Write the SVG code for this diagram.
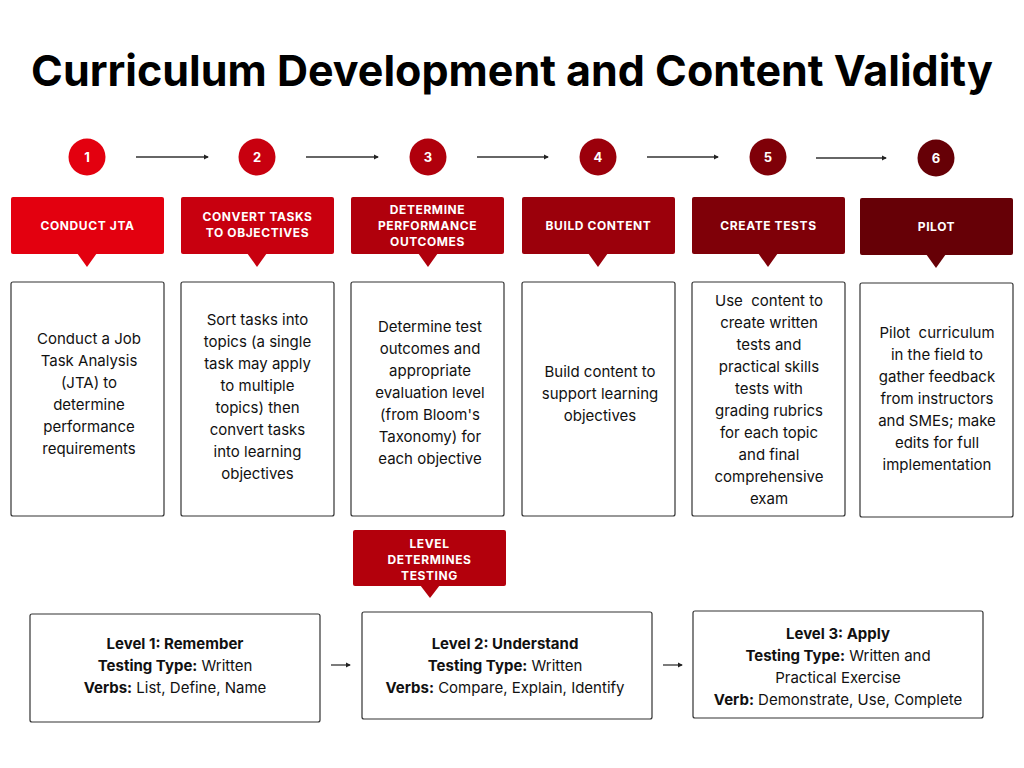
<svg xmlns="http://www.w3.org/2000/svg" width="1024" height="768" viewBox="0 0 1024 768">
<defs>
<style>
.title{font-family:Inter,"Liberation Sans",sans-serif;font-weight:700;font-size:43px;fill:#000}
.num{font-family:Inter,"Liberation Sans",sans-serif;font-weight:700;font-size:13px;fill:#fff}
.hd{font-family:Inter,"Liberation Sans",sans-serif;font-weight:700;font-size:12px;fill:#fff;letter-spacing:0.6px}
.bd{font-family:Inter,"Liberation Sans",sans-serif;font-size:15px;fill:#111}
.b{font-weight:700}
.box{fill:#fff;stroke:#333;stroke-width:1.2}
.conn{stroke:#333;stroke-width:1.3;fill:none}
</style>
<marker id="ah" viewBox="0 0 6 6" refX="5" refY="3" markerWidth="4" markerHeight="4" orient="auto">
<path d="M0,0 L6,3 L0,6 z" fill="#222"/>
</marker>
</defs>
<rect width="1024" height="768" fill="#fff"/>
<text class="title" x="512" y="86" text-anchor="middle">Curriculum Development and Content Validity</text>

<g id="connectors">
<line class="conn" x1="136" y1="157" x2="208" y2="157" marker-end="url(#ah)"/>
<line class="conn" x1="306" y1="157" x2="378" y2="157" marker-end="url(#ah)"/>
<line class="conn" x1="477" y1="157" x2="548" y2="157" marker-end="url(#ah)"/>
<line class="conn" x1="647" y1="157" x2="718" y2="157" marker-end="url(#ah)"/>
<line class="conn" x1="816" y1="158" x2="886" y2="158" marker-end="url(#ah)"/>
<line class="conn" x1="331" y1="665" x2="350" y2="665" marker-end="url(#ah)"/>
<line class="conn" x1="663" y1="665" x2="682" y2="665" marker-end="url(#ah)"/>
</g>

<g id="step1">
<circle cx="87" cy="157" r="18.5" fill="#e3000f"/>
<text class="num" x="87" y="162" text-anchor="middle">1</text>
<rect x="11" y="197" width="153" height="57" rx="2" fill="#e3000f"/>
<path d="M77,253 L97,253 L87,267 z" fill="#e3000f"/>
<text class="hd" x="87.5" y="230" text-anchor="middle">CONDUCT JTA</text>
<rect class="box" x="11" y="282" width="153" height="234" rx="2"/>
<text class="bd" text-anchor="middle" x="89"><tspan x="89" y="344">Conduct a Job</tspan><tspan x="89" y="366">Task Analysis</tspan><tspan x="89" y="388">(JTA) to</tspan><tspan x="89" y="410">determine</tspan><tspan x="89" y="432">performance</tspan><tspan x="89" y="454">requirements</tspan></text>
</g>

<g id="step2">
<circle cx="257" cy="157" r="18.5" fill="#c8000f"/>
<text class="num" x="257" y="162" text-anchor="middle">2</text>
<rect x="181" y="197" width="153" height="57" rx="2" fill="#c8000f"/>
<path d="M247,253 L267,253 L257,267 z" fill="#c8000f"/>
<text class="hd" text-anchor="middle"><tspan x="257.5" y="221">CONVERT TASKS</tspan><tspan x="257.5" y="237">TO OBJECTIVES</tspan></text>
<rect class="box" x="181" y="282" width="153" height="234" rx="2"/>
<text class="bd" text-anchor="middle"><tspan x="257.5" y="325">Sort tasks into</tspan><tspan x="257.5" y="347">topics (a single</tspan><tspan x="257.5" y="369">task may apply</tspan><tspan x="257.5" y="391">to multiple</tspan><tspan x="257.5" y="413">topics) then</tspan><tspan x="257.5" y="435">convert tasks</tspan><tspan x="257.5" y="457">into learning</tspan><tspan x="257.5" y="479">objectives</tspan></text>
</g>

<g id="step3">
<circle cx="428" cy="157" r="18.5" fill="#b0000c"/>
<text class="num" x="428" y="162" text-anchor="middle">3</text>
<rect x="351" y="197" width="153" height="57" rx="2" fill="#b0000c"/>
<path d="M418,253 L438,253 L428,267 z" fill="#b0000c"/>
<text class="hd" text-anchor="middle"><tspan x="427.5" y="214">DETERMINE</tspan><tspan x="427.5" y="230">PERFORMANCE</tspan><tspan x="427.5" y="246">OUTCOMES</tspan></text>
<rect class="box" x="351" y="282" width="153" height="234" rx="2"/>
<text class="bd" text-anchor="middle"><tspan x="430" y="332">Determine test</tspan><tspan x="430" y="354">outcomes and</tspan><tspan x="430" y="376">appropriate</tspan><tspan x="430" y="398">evaluation level</tspan><tspan x="430" y="420">(from Bloom's</tspan><tspan x="430" y="442">Taxonomy) for</tspan><tspan x="430" y="464">each objective</tspan></text>
</g>

<g id="step4">
<circle cx="598" cy="157" r="18.5" fill="#9b000b"/>
<text class="num" x="598" y="162" text-anchor="middle">4</text>
<rect x="522" y="197" width="153" height="57" rx="2" fill="#9b000b"/>
<path d="M588,253 L608,253 L598,267 z" fill="#9b000b"/>
<text class="hd" x="598.5" y="230" text-anchor="middle">BUILD CONTENT</text>
<rect class="box" x="522" y="282" width="153" height="234" rx="2"/>
<text class="bd" text-anchor="middle"><tspan x="600" y="377">Build content to</tspan><tspan x="600" y="399">support learning</tspan><tspan x="600" y="421">objectives</tspan></text>
</g>

<g id="step5">
<circle cx="768" cy="157" r="18.5" fill="#7f0008"/>
<text class="num" x="768" y="162" text-anchor="middle">5</text>
<rect x="692" y="197" width="153" height="57" rx="2" fill="#7f0008"/>
<path d="M758,253 L778,253 L768,267 z" fill="#7f0008"/>
<text class="hd" x="768.5" y="230" text-anchor="middle">CREATE TESTS</text>
<rect class="box" x="692" y="282" width="153" height="234" rx="2"/>
<text class="bd" text-anchor="middle" xml:space="preserve"><tspan x="769" y="306">Use  content to</tspan><tspan x="769" y="328">create written</tspan><tspan x="769" y="350">tests and</tspan><tspan x="769" y="372">practical skills</tspan><tspan x="769" y="394">tests with</tspan><tspan x="769" y="416">grading rubrics</tspan><tspan x="769" y="438">for each topic</tspan><tspan x="769" y="460">and final</tspan><tspan x="769" y="482">comprehensive</tspan><tspan x="769" y="504">exam</tspan></text>
</g>

<g id="step6">
<circle cx="936" cy="158" r="18.5" fill="#660006"/>
<text class="num" x="936" y="163" text-anchor="middle">6</text>
<rect x="860" y="198" width="153" height="57" rx="2" fill="#660006"/>
<path d="M926,254 L946,254 L936,268 z" fill="#660006"/>
<text class="hd" x="936.5" y="231" text-anchor="middle">PILOT</text>
<rect class="box" x="860" y="283" width="153" height="234" rx="2"/>
<text class="bd" text-anchor="middle" xml:space="preserve"><tspan x="937" y="338">Pilot  curriculum</tspan><tspan x="937" y="360">in the field to</tspan><tspan x="937" y="382">gather feedback</tspan><tspan x="937" y="404">from instructors</tspan><tspan x="937" y="426">and SMEs; make</tspan><tspan x="937" y="448">edits for full</tspan><tspan x="937" y="470">implementation</tspan></text>
</g>

<g id="level-determines-testing">
<rect x="353" y="530" width="153" height="56" rx="2" fill="#b3000c"/>
<path d="M420,585 L440,585 L430,598 z" fill="#b3000c"/>
<text class="hd" text-anchor="middle"><tspan x="429.5" y="548">LEVEL</tspan><tspan x="429.5" y="564">DETERMINES</tspan><tspan x="429.5" y="580">TESTING</tspan></text>
</g>

<g id="level1">
<rect class="box" x="30" y="614" width="290" height="108" rx="2"/>
<text class="bd" text-anchor="middle"><tspan x="175" y="649" class="b">Level 1: Remember</tspan><tspan x="175" y="671"><tspan class="b">Testing Type:</tspan> Written</tspan><tspan x="175" y="693"><tspan class="b">Verbs:</tspan> List, Define, Name</tspan></text>
</g>

<g id="level2">
<rect class="box" x="362" y="612" width="290" height="107" rx="2"/>
<text class="bd" text-anchor="middle"><tspan x="505" y="649" class="b">Level 2: Understand</tspan><tspan x="505" y="671"><tspan class="b">Testing Type:</tspan> Written</tspan><tspan x="505" y="693"><tspan class="b">Verbs:</tspan> Compare, Explain, Identify</tspan></text>
</g>

<g id="level3">
<rect class="box" x="693" y="611" width="290" height="107" rx="2"/>
<text class="bd" text-anchor="middle"><tspan x="838" y="639" class="b">Level 3: Apply</tspan><tspan x="838" y="661"><tspan class="b">Testing Type:</tspan> Written and</tspan><tspan x="838" y="683">Practical Exercise</tspan><tspan x="838" y="705"><tspan class="b">Verb:</tspan> Demonstrate, Use, Complete</tspan></text>
</g>
</svg>
